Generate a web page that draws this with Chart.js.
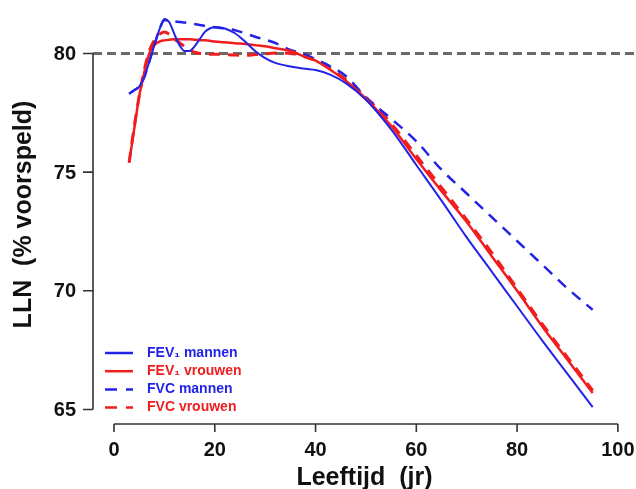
<!DOCTYPE html>
<html>
<head>
<meta charset="utf-8">
<script src="https://cdn.jsdelivr.net/npm/chart.js@4"></script>
<style>
  body { margin: 0; background: #fff; }
  canvas { display: block; }
</style>
</head>
<body>
<canvas id="lln" width="636" height="489"></canvas>
<script>
// leeftijd (jr)
var ages = [3,4,5,6,7,8,9,10,11,12,13,14,15,16,17,18,19,20,22,24,26,28,30,32,35,38,40,43,46,50,55,60,65,70,75,80,85,90,95];

// LLN als % voorspeld
var fev1Mannen = [78.3,78.45,78.6,79.0,79.65,80.35,81.0,81.45,81.3,80.8,80.35,80.1,80.1,80.3,80.6,80.9,81.05,81.1,81.05,80.85,80.5,80.1,79.8,79.6,79.45,79.35,79.3,79.1,78.75,78.05,76.8,75.3,73.8,72.25,70.8,69.35,67.9,66.5,65.1];
var fev1Vrouwen = [75.4,76.8,78.2,79.2,80.0,80.35,80.5,80.55,80.58,80.6,80.6,80.6,80.6,80.58,80.56,80.55,80.53,80.5,80.47,80.43,80.4,80.35,80.3,80.22,80.1,79.85,79.7,79.3,78.85,78.1,76.95,75.55,74.2,72.9,71.45,70.0,68.5,67.1,65.7];
var fvcMannen = [78.3,78.45,78.6,79.0,79.65,80.35,81.0,81.4,81.4,81.35,81.32,81.3,81.27,81.24,81.2,81.17,81.14,81.1,81.05,80.98,80.85,80.7,80.58,80.44,80.15,79.95,79.75,79.45,79.05,78.15,77.25,76.3,75.1,74.1,73.1,72.1,71.1,70.1,69.2];
var fvcVrouwen = [75.4,76.9,78.2,79.3,80.1,80.55,80.8,80.9,80.8,80.6,80.45,80.3,80.15,80.05,80.0,79.98,79.97,79.97,79.95,79.93,79.92,79.95,79.98,80.02,80.0,79.85,79.7,79.35,78.9,78.15,77.05,75.7,74.35,73.0,71.6,70.1,68.6,67.2,65.8];

var refLevel = 80;
var xTicks = [0,20,40,60,80,100];
var yTicks = [65,70,75,80];
var legendLabels = ['FEV\u2081 mannen','FEV\u2081 vrouwen','FVC mannen','FVC vrouwen'];

var BLUE = '#2323e8';
var RED = '#f01e1e';
var X_MIN = -4.17, X_MAX = 103.6;
var Y_MIN = 64.39, Y_MAX = 82.04;

function pts(vals) {
    return ages.map(function(a, i){ return {x: a, y: vals[i]}; });
}

var series = [
    {label: legendLabels[0], data: pts(fev1Mannen), borderColor: BLUE, borderWidth: 2, borderDash: []},
    {label: legendLabels[1], data: pts(fev1Vrouwen), borderColor: RED, borderWidth: 2.5, borderDash: []},
    {label: legendLabels[2], data: pts(fvcMannen), borderColor: BLUE, borderWidth: 2.5, borderDash: [11, 8]},
    {label: legendLabels[3], data: pts(fvcVrouwen), borderColor: RED, borderWidth: 3, borderDash: [11, 8]}
];

var datasets = series.map(function(s){
    return {
        label: s.label, data: s.data, borderColor: s.borderColor, borderWidth: s.borderWidth,
        borderDash: s.borderDash, pointRadius: 0, fill: false, cubicInterpolationMode: 'monotone'
    };
});
// horizontal reference line at 80%
datasets.push({
    label: 'ref', data: [{x: X_MIN, y: refLevel}, {x: X_MAX, y: refLevel}],
    borderColor: '#6a6a6a', borderWidth: 3, borderDash: [9, 5], pointRadius: 0, fill: false
});

var FONT = '"Liberation Sans", Arial, sans-serif';

var rAxes = {
    id: 'rAxes',
    afterDraw: function(chart) {
        var ctx = chart.ctx;
        var xs = chart.scales.x, ys = chart.scales.y;
        var area = chart.chartArea;
        ctx.save();
        ctx.strokeStyle = '#333';
        ctx.fillStyle = '#111';
        ctx.lineWidth = 1.6;

        // x axis
        var yb = area.bottom;
        ctx.beginPath();
        ctx.moveTo(xs.getPixelForValue(xTicks[0]), yb);
        ctx.lineTo(xs.getPixelForValue(xTicks[xTicks.length - 1]), yb);
        xTicks.forEach(function(t){
            var px = xs.getPixelForValue(t);
            ctx.moveTo(px, yb);
            ctx.lineTo(px, yb + 8);
        });
        ctx.stroke();
        ctx.font = 'bold 20px ' + FONT;
        ctx.textAlign = 'center';
        ctx.textBaseline = 'middle';
        xTicks.forEach(function(t){
            ctx.fillText(String(t), xs.getPixelForValue(t), yb + 26);
        });

        // y axis
        var xl = area.left;
        ctx.beginPath();
        ctx.moveTo(xl, ys.getPixelForValue(yTicks[0]));
        ctx.lineTo(xl, ys.getPixelForValue(yTicks[yTicks.length - 1]));
        yTicks.forEach(function(t){
            var py = ys.getPixelForValue(t);
            ctx.moveTo(xl, py);
            ctx.lineTo(xl - 10, py);
        });
        ctx.stroke();
        ctx.textAlign = 'right';
        yTicks.forEach(function(t){
            ctx.fillText(String(t), xl - 17, ys.getPixelForValue(t) + 1);
        });

        // axis titles
        ctx.font = 'bold 25px ' + FONT;
        ctx.textAlign = 'center';
        ctx.fillText('Leeftijd  (jr)', (area.left + area.right) / 2, yb + 54);
        ctx.save();
        ctx.translate(24, (area.top + area.bottom) / 2);
        ctx.rotate(-Math.PI / 2);
        ctx.fillText('LLN  (% voorspeld)', 0, 0);
        ctx.restore();

        // legend
        ctx.font = 'bold 14px ' + FONT;
        ctx.textAlign = 'left';
        var lx = 105, ly = 353, step = 18.2;
        series.forEach(function(s, i){
            var y = ly + i * step;
            ctx.strokeStyle = s.borderColor;
            ctx.lineWidth = 2.5;
            ctx.setLineDash(s.borderDash.length ? [12, 9] : []);
            ctx.beginPath();
            ctx.moveTo(lx, y);
            ctx.lineTo(lx + 28, y);
            ctx.stroke();
            ctx.setLineDash([]);
            ctx.fillStyle = s.borderColor;
            ctx.fillText(s.label, lx + 42, y);
        });
        ctx.restore();
    }
};

new Chart(document.getElementById('lln'), {
    type: 'line',
    data: { datasets: datasets },
    options: {
        responsive: false,
        animation: false,
        layout: { padding: { left: 93, right: 0, top: 5, bottom: 65 } },
        plugins: { legend: { display: false }, tooltip: { enabled: false } },
        scales: {
            x: { type: 'linear', min: X_MIN, max: X_MAX, display: false },
            y: { type: 'linear', min: Y_MIN, max: Y_MAX, display: false }
        }
    },
    plugins: [rAxes]
});
</script>
</body>
</html>
